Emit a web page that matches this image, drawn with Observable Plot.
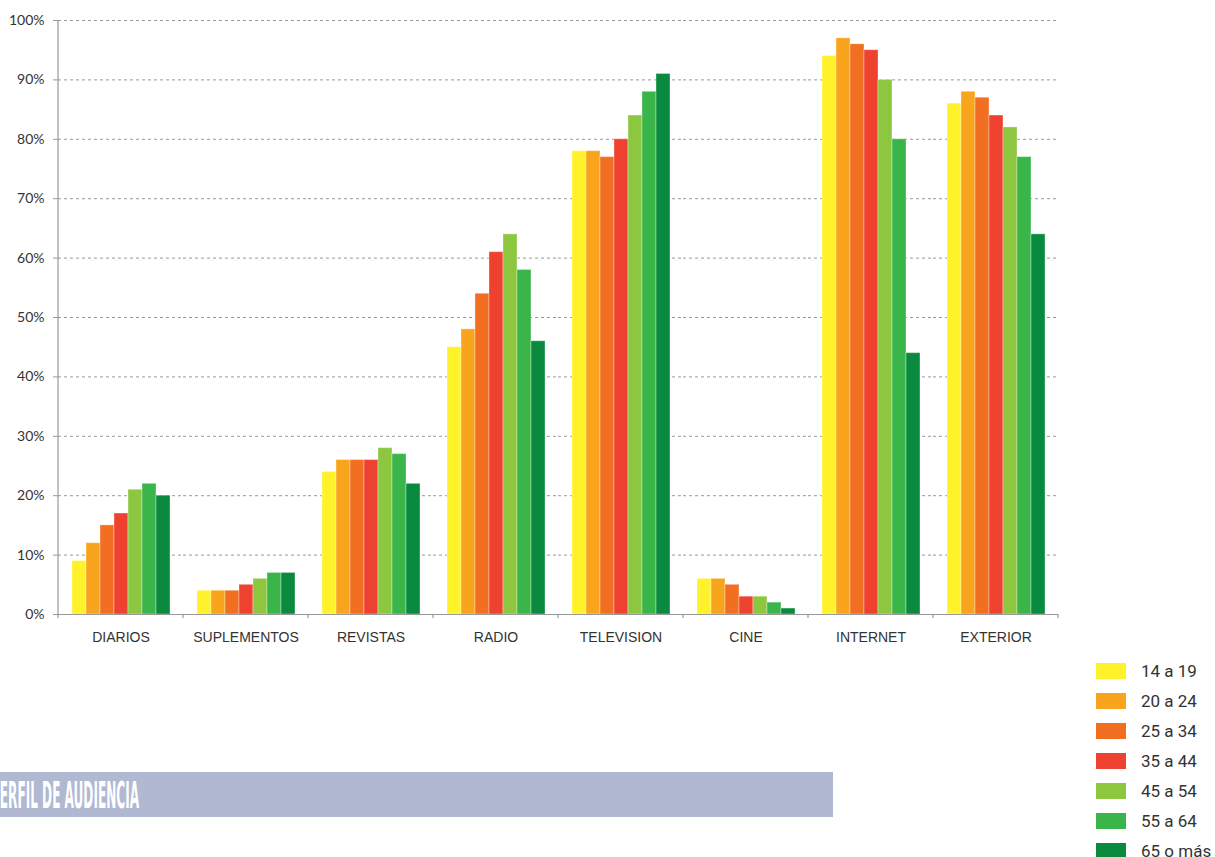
<!DOCTYPE html>
<html>
<head>
<meta charset="utf-8">
<script src="https://cdn.jsdelivr.net/npm/d3@7"></script>
<script src="https://cdn.jsdelivr.net/npm/@observablehq/plot@0.6"></script>
<style>
  body { margin: 0; background: #fff; }
  #wrap { position: relative; width: 1215px; height: 857px; overflow: hidden; background: #fff; }
  #chart { position: absolute; left: 0; top: 0; }
  #legend { position: absolute; left: 1096px; top: 656px; font-family: Roboto, sans-serif; font-size: 17px; line-height: 17px; color: #333; }
  .item { display: flex; align-items: center; height: 30px; white-space: nowrap; }
  .sw { width: 30px; height: 16px; margin-right: 15px; flex: none; }
  #title { position: absolute; left: 0; top: 772px; }
</style>
</head>
<body>
<div id="wrap">
  <div id="chart"></div>
  <div id="legend"></div>
  <svg id="title" width="833" height="45">
    <rect x="0" y="0" width="833" height="45" fill="#B0B8D2"></rect>
    <text x="-9" y="36" fill="#fff" font-family="DejaVu Sans Condensed, DejaVu Sans, sans-serif" font-weight="bold" font-size="38" textLength="148" lengthAdjust="spacingAndGlyphs">PERFIL DE AUDIENCIA</text>
  </svg>
</div>
<script>
const categories = ["DIARIOS", "SUPLEMENTOS", "REVISTAS", "RADIO", "TELEVISION", "CINE", "INTERNET", "EXTERIOR"];
const ages = ["14 a 19", "20 a 24", "25 a 34", "35 a 44", "45 a 54", "55 a 64", "65 o más"];
const colors = ["#FFF12A", "#F8A51D", "#F26F21", "#EF4130", "#8DC63F", "#39B54A", "#0A8A3E"];

const age14 = [9, 4, 24, 45, 78, 6, 94, 86];
const age20 = [12, 4, 26, 48, 78, 6, 97, 88];
const age25 = [15, 4, 26, 54, 77, 5, 96, 87];
const age35 = [17, 5, 26, 61, 80, 3, 95, 84];
const age45 = [21, 6, 28, 64, 84, 3, 90, 82];
const age55 = [22, 7, 27, 58, 88, 2, 80, 77];
const age65 = [20, 7, 22, 46, 91, 1, 44, 64];
const series = [age14, age20, age25, age35, age45, age55, age65];

const yTicks = [0, 10, 20, 30, 40, 50, 60, 70, 80, 90, 100];

const data = categories.flatMap((c, i) => ages.map((a, j) => ({category: c, age: a, value: series[j][i]})));

const plot = Plot.plot({
  width: 1215,
  height: 660,
  marginLeft: 55,
  marginRight: 154,
  marginTop: 20,
  marginBottom: 46,
  style: {fontFamily: "Lato, sans-serif", fontSize: "14px", color: "#333", background: "transparent", overflow: "visible"},
  fx: {domain: categories, padding: 0, label: null},
  x: {domain: ages, paddingInner: 0, paddingOuter: 0.74, axis: null},
  y: {domain: [0, 100], label: null},
  color: {domain: ages, range: colors},
  marks: [
    Plot.gridY({ticks: yTicks, stroke: "#999", strokeOpacity: 1, strokeDasharray: "3,3"}),
    Plot.axisY({ticks: yTicks, tickFormat: d => d + "%", tickSize: 5, tickPadding: 9, stroke: "#999", fill: "#333", label: null}),
    Plot.axisFx({anchor: "bottom", tickSize: 0, tickPadding: 18, fontFamily: "Liberation Sans, Arial, sans-serif", fontSize: 14, fill: "#333", label: null}),
    Plot.barY(data, {fx: "category", x: "age", y: "value", fill: "age", stroke: "white", strokeOpacity: 0.35, strokeWidth: 1}),
    Plot.ruleY([0], {stroke: "#999", strokeWidth: 1.2})
  ]
});

// axis line on the left and boundary ticks below the category axis, from the plot's own scales
const fx = plot.scale("fx");
const ys = plot.scale("y");
const svg = d3.select(plot);
const x0 = fx.apply(categories[0]);
svg.append("line")
  .attr("x1", x0).attr("x2", x0)
  .attr("y1", ys.apply(100)).attr("y2", ys.apply(0))
  .attr("stroke", "#999").attr("stroke-width", 1.2);
const bounds = categories.map(c => fx.apply(c)).concat([fx.apply(categories[categories.length - 1]) + fx.bandwidth]);
svg.append("g").selectAll("line").data(bounds).join("line")
  .attr("x1", d => d).attr("x2", d => d)
  .attr("y1", ys.apply(0)).attr("y2", ys.apply(0) + 4)
  .attr("stroke", "#999").attr("stroke-width", 1.2);

document.getElementById("chart").appendChild(plot);

const legend = d3.select("#legend");
ages.forEach((a, i) => {
  const item = legend.append("div").attr("class", "item");
  item.append("div").attr("class", "sw").style("background", colors[i]);
  item.append("span").text(a);
});
</script>
</body>
</html>
